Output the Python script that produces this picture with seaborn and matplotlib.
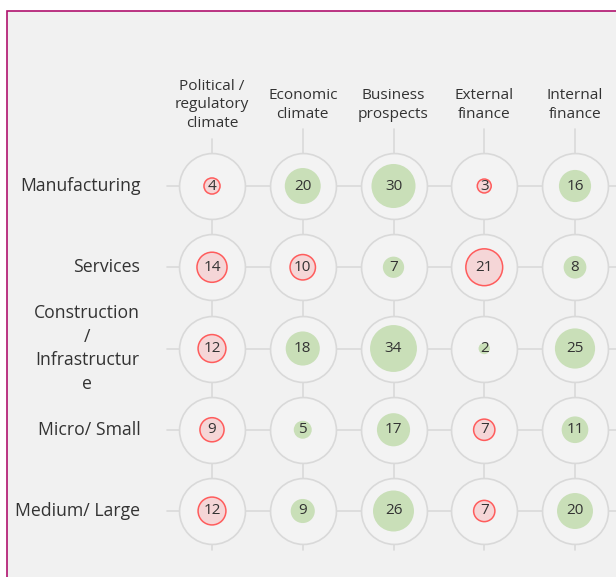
import numpy as np
import pandas as pd
import seaborn as sns
import matplotlib.pyplot as plt
from matplotlib.patches import Rectangle

# data
columns = ['Political /\nregulatory\nclimate', 'Economic\nclimate', 'Business\nprospects',
           'External\nfinance', 'Internal\nfinance']
rows = ['Manufacturing', 'Services', 'Construction\n/\nInfrastructur\ne',
        'Micro/ Small', 'Medium/ Large']
# values per row (political, economic, business, external, internal)
manufacturing = [4, 20, 30, 3, 16]
services = [14, 10, 7, 21, 8]
construction = [12, 18, 34, 2, 25]
micro_small = [9, 5, 17, 7, 11]
medium_large = [12, 9, 26, 7, 20]
# which cells are negative (red)
neg_manufacturing = [1, 0, 0, 1, 0]
neg_services = [1, 1, 0, 1, 0]
neg_construction = [1, 0, 0, 0, 0]
neg_micro_small = [1, 0, 0, 1, 0]
neg_medium_large = [1, 0, 0, 1, 0]

values = [manufacturing, services, construction, micro_small, medium_large]
negs = [neg_manufacturing, neg_services, neg_construction, neg_micro_small, neg_medium_large]

recs = []
for r, (vals, ng) in enumerate(zip(values, negs)):
    for c, (v, n) in enumerate(zip(vals, ng)):
        recs.append({'col': c, 'row': r, 'value': v, 'sign': 'neg' if n else 'pos'})
df = pd.DataFrame(recs)

bg = '#f1f1f1'
txt = '#333333'
grid = '#d9d9d9'

sns.set_theme(style='white')
plt.rcParams['font.family'] = ['Open Sans', 'DejaVu Sans']

fig = plt.figure(figsize=(6.16, 5.77), dpi=100)
fig.patch.set_facecolor('white')
fig.patches.append(Rectangle((7 / 616, -0.1), 1.2, 1 - 11 / 577 + 0.1, transform=fig.transFigure,
                             facecolor=bg, edgecolor='#b0126e', lw=1.2, zorder=-10))
ax = fig.add_axes([0, 0, 1, 1])
ax.set_facecolor('none')
# pixel mapping: col 0 at 212px, step 90.75px; row 0 at 186px, step 81.25px
ax.set_xlim(-212 / 90.75, (616 - 212) / 90.75)
ax.set_ylim((577 - 186) / 81.25, -186 / 81.25)
ax.axis('off')

# grid lines
for r in range(len(rows)):
    ax.plot([-0.5, 5], [r, r], color=grid, lw=1.2, zorder=1)
for c, name in enumerate(columns):
    nl = name.count('\n') + 1
    top = -1 + (nl * 10.5 + 3) / 81.25
    ax.plot([c, c], [top, 4.48], color=grid, lw=1.2, zorder=1)

# outer circles
sns.scatterplot(data=df, x='col', y='row', s=2250, color='#f3f3f3', edgecolor=grid,
                linewidth=1.2, ax=ax, zorder=2, legend=False)

# inner circles sized by value (area ~ value)
k = 33.5
pos = df[df['sign'] == 'pos']
neg = df[df['sign'] == 'neg']
sns.scatterplot(data=pos, x='col', y='row', size='value', sizes=(0, 34 * k), size_norm=(0, 34),
                color='#c9dfb8', edgecolor='none', linewidth=0, ax=ax, zorder=3, legend=False)
sns.scatterplot(data=neg, x='col', y='row', size='value', sizes=(0, 34 * k), size_norm=(0, 34),
                color='#f5d6d7', edgecolor='#ff5c5c', linewidth=1.1, ax=ax, zorder=3, legend=False)

for _, d in df.iterrows():
    ax.text(d['col'], d['row'], str(d['value']), ha='center', va='center',
            fontsize=11, color=txt, zorder=4)

for c, name in enumerate(columns):
    ax.text(c, -1, name, ha='center', va='center', fontsize=11.1, color=txt,
            linespacing=1.32, multialignment='center')
for r, name in enumerate(rows):
    ax.text(-0.79, r, name, ha='right', va='center', fontsize=12.7, color=txt,
            linespacing=1.42, multialignment='center')

fig.savefig('out.png', dpi=100, facecolor=fig.get_facecolor())
